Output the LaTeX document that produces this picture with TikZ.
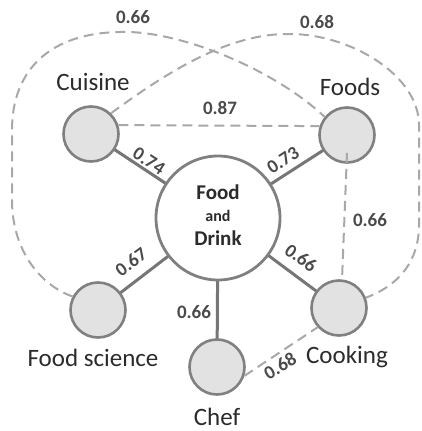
\documentclass[tikz,border=0pt]{standalone}
\usepackage{fontspec}
\setmainfont{Carlito}
\usetikzlibrary{calc}
\definecolor{ringgray}{HTML}{808080}
\definecolor{bubblefill}{HTML}{E2E2E2}
\definecolor{linkgray}{HTML}{767676}
\definecolor{dashgray}{HTML}{A8A8A8}
\definecolor{labeltext}{HTML}{2B2B2B}
\definecolor{weighttext}{HTML}{4A4A4A}
\begin{document}
\begin{tikzpicture}[x=1pt,y=-1pt,
  hub/.style={circle,draw=ringgray,line width=2.8pt,fill=white,minimum size=124pt,inner sep=0pt},
  topic/.style={circle,draw=ringgray,line width=2.6pt,fill=bubblefill,minimum size=55pt,inner sep=0pt},
  topicname/.style={text=labeltext,font=\fontsize{25}{28}\selectfont,inner sep=0pt},
  weight/.style={text=weighttext,font=\bfseries\fontsize{19}{22}\selectfont,inner sep=0pt},
  hubtext/.style={text=labeltext,font=\bfseries\fontsize{21}{24}\selectfont,inner sep=0pt},
  link/.style={draw=linkgray,line width=3pt},
  weak/.style={draw=dashgray,line width=2pt,dash pattern=on 10pt off 6pt}]
\path[use as bounding box] (0,0) rectangle (421,431);

% node positions (bubbles are drawn over the links below)
\coordinate (pfd) at (218,218);
\coordinate (pcuisine) at (91,134);
\coordinate (pfoods) at (347,135);
\coordinate (psci) at (98,310);
\coordinate (pcook) at (339,308);
\coordinate (pchef) at (217,367);

% solid links to the hub
\path[link] (pcuisine) -- (pfd);
\path[link] (pfoods) -- (pfd);
\path[link] (psci) -- (pfd);
\path[link] (pcook) -- (pfd);
\path[link] (pchef) -- (pfd);

% hub and topic bubbles
\node[hub] (fd) at (pfd) {};
\node[topic] (cuisine) at (pcuisine) {};
\node[topic] (foods) at (pfoods) {};
\node[topic] (sci) at (psci) {};
\node[topic] (cook) at (pcook) {};
\node[topic] (chef) at (pchef) {};

% hub text
\node[hubtext] (t1) at (218,192) {Food};
\node[hubtext,font=\bfseries\fontsize{16}{18}\selectfont] (t2) at (218,216) {and};
\node[hubtext] (t3) at (218,238) {Drink};

% dashed links between topics
\path[weak] (cuisine.18) -- (foods.162);
\path[weak] ($(foods.center)!0.62!(foods.south)$) -- (cook.84);
\path[weak] (chef.-18) -- (cook.222);
\path[weak] (sci.152) .. controls (40,285) and (12,250) .. (12,200)
  -- (12,130) .. controls (12,70) and (50,33) .. (120,32)
  .. controls (180,30) and (275,70) .. (foods.141);
\path[weak] (cuisine.46) .. controls (170,70) and (230,33) .. (290,34)
  .. controls (350,34) and (419,75) .. (419,125)
  -- (419,225) .. controls (419,260) and (400,285) .. (cook.21);

% topic names
\node[topicname] (lc) at (93,82) {Cuisine};
\node[topicname] (lf) at (350,87) {Foods};
\node[topicname] (ls) at (93,358) {Food science};
\node[topicname] (lk) at (347,357) {Cooking};
\node[topicname] (lh) at (217,417) {Chef};

% weights
\node[weight,rotate=-33] (w1) at (149,161) {0.74};
\node[weight,rotate=33] (w2) at (283,160) {0.73};
\node[weight,rotate=36] (w3) at (131,262) {0.67};
\node[weight,rotate=-36] (w4) at (301,258) {0.66};
\node[weight] (w5) at (194,312) {0.66};
\node[weight,rotate=30] (w6) at (280,366) {0.68};
\node[weight] (w7) at (220,108) {0.87};
\node[weight] (w8) at (370,220) {0.66};
\node[weight] (w9) at (133,17) {0.66};
\node[weight] (w10) at (317,22) {0.68};
\end{tikzpicture}
\end{document}
